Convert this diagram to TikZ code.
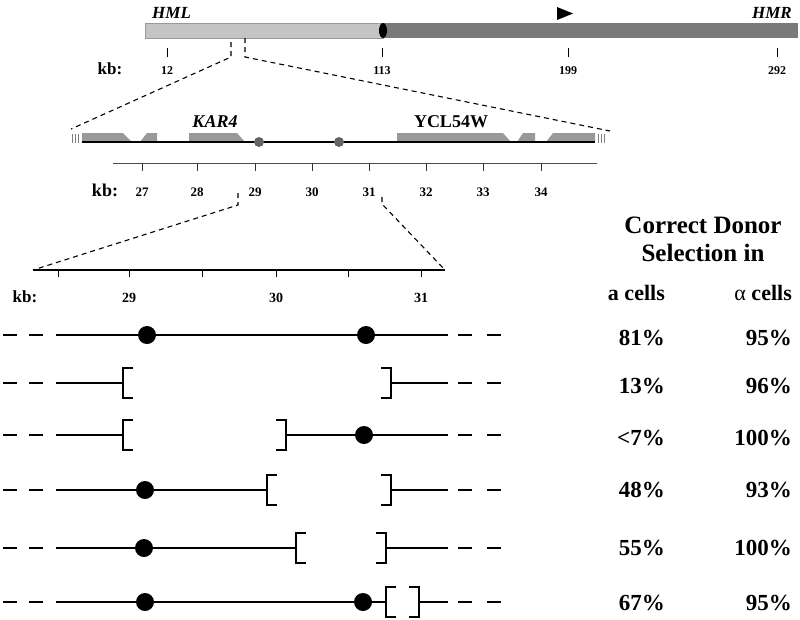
\documentclass[tikz,border=0pt]{standalone}
\usepackage{fontspec}
\setmainfont{Liberation Serif}
\definecolor{lightbar}{HTML}{C4C4C4}
\definecolor{darkbar}{HTML}{7A7A7A}
\definecolor{genegray}{HTML}{999999}
\definecolor{dotgray}{HTML}{666666}
\newcommand{\obrk}[2]{\draw[brk] (#1+10,#2-15) -- (#1,#2-15) -- (#1,#2+15) -- (#1+10,#2+15);}
\newcommand{\cbrk}[2]{\draw[brk] (#1-10,#2-15) -- (#1,#2-15) -- (#1,#2+15) -- (#1-10,#2+15);}
\newcommand{\rowends}[1]{\draw[rowline, dash pattern=on 14pt off 12pt] (3,#1) -- (43,#1);
  \draw[rowline, dash pattern=on 14pt off 15pt] (458,#1) -- (501,#1);}
\begin{document}
\begin{tikzpicture}[x=1pt,y=-1pt,
  txt/.style={inner sep=0pt, font=\bfseries\fontsize{#1}{#1}\selectfont},
  txt/.default=12,
  zoomline/.style={line width=1.1pt, dash pattern=on 5pt off 4pt},
  rowline/.style={line width=2.9pt},
  brk/.style={line width=2.5pt, line cap=butt, line join=miter},
  bigdot/.style={fill=black},
  gene/.style={fill=genegray}]
\useasboundingbox (0,0) rectangle (800,619);

% ---------------- top chromosome bar ----------------
\fill[lightbar] (145,23) rectangle (383,38);
\draw[black!40, line width=0.5pt] (145,23) rectangle (383,38);
\fill[darkbar] (383,23) rectangle (798,38);
\fill[black] (383,30.5) ellipse [x radius=4, y radius=7.5];
\fill[black] (557,7) -- (573,13.5) -- (557,20) -- cycle;
\node[txt=17, anchor=base west] (hml) at (152,18) {\itshape HML};
\node[txt=17, anchor=base east] (hmr) at (792,18) {\itshape HMR};
\node[txt=17, anchor=base] (kbA) at (110,74) {kb:};
\foreach \x/\t in {167/12,382/113,568/199,777/292}{
  \draw[line width=0.8pt] (\x,48) -- (\x,57);
  \node[txt=12, anchor=base] (tA\t) at (\x,74) {\t};
}
\coordinate (a1) at (231,42);
\coordinate (a2) at (231,57);
\coordinate (a3) at (71,129);
\coordinate (b1) at (245,38);
\coordinate (b2) at (245,57);
\coordinate (b3) at (610,131);
\draw[zoomline] (a1) -- (a2) -- (a3);
\draw[zoomline] (b1) -- (b2) -- (b3);

% ---------------- middle map ----------------
\foreach \x in {72,75,78,598,601,604}{
  \draw[black!50, line width=1pt] (\x,134) -- (\x,143);
}
\fill[gene] (82,133) -- (123,133) -- (132,142) -- (82,142) -- cycle;
\fill[gene] (140,142) -- (147,133) -- (157,133) -- (157,142) -- cycle;
\fill[gene] (189,133) -- (237,133) -- (245,142) -- (189,142) -- cycle;
\fill[gene] (397,133) -- (503,133) -- (511,142) -- (397,142) -- cycle;
\fill[gene] (517,142) -- (523,133) -- (535,133) -- (535,142) -- cycle;
\fill[gene] (546,142) -- (553,133) -- (595,133) -- (595,142) -- cycle;
\draw[line width=1.8pt] (82,142) -- (595,142);
\fill[dotgray] (259,142) circle (5);
\fill[dotgray] (339,142) circle (5);
\node[txt=18, anchor=base] (kar) at (215,127) {\itshape KAR4};
\node[txt=18, anchor=base] (ycl) at (451,127) {YCL54W};
\draw[black!70, line width=1pt] (113,163) -- (597,163);
\node[txt=18, anchor=base] (kbB) at (105,196) {kb:};
\foreach \x/\t in {142/27,197/28,255/29,312/30,369/31,426/32,483/33,541/34}{
  \draw[black!80, line width=0.8pt] (\x,163) -- (\x,171);
  \node[txt=13, anchor=base] (tB\t) at (\x,196) {\t};
}
\coordinate (c1) at (238,193);
\coordinate (c2) at (238,205);
\coordinate (c3) at (33,270);
\coordinate (d1) at (382,197);
\coordinate (d2) at (382,204);
\coordinate (d3) at (445,270);
\draw[zoomline] (c1) -- (c2) -- (c3);
\draw[zoomline] (d1) -- (d2) -- (d3);

% ---------------- lower ruler ----------------
\draw[line width=1.3pt] (33,270) -- (445,270);
\foreach \x in {58,129,202,276,348,421}{
  \draw[line width=1pt] (\x,270) -- (\x,277);
}
\node[txt=17, anchor=base] (kbC) at (25,302) {kb:};
\node[txt=14, anchor=base] (tC29) at (129,302) {29};
\node[txt=14, anchor=base] (tC30) at (276,302) {30};
\node[txt=14, anchor=base] (tC31) at (421,302) {31};

% ---------------- headings ----------------
\node[txt=25, anchor=base] (h1) at (703,233) {Correct Donor};
\node[txt=25, anchor=base] (h2) at (703,261) {Selection in};
\node[txt=22, anchor=base east] (acol) at (665,300) {a cells};
\node[txt=22, anchor=base east] (alcol) at (792,300) {{\mdseries α} cells};

% ---------------- rows ----------------
% row 1
\rowends{335}
\draw[rowline] (56,335) -- (448,335);
\fill[bigdot] (147,335) circle (9);
\fill[bigdot] (366,335) circle (9);
% row 2
\rowends{383}
\draw[rowline] (56,383) -- (123,383);
\draw[rowline] (391,383) -- (448,383);
\obrk{123}{383}
\cbrk{391}{383}
% row 3
\rowends{435}
\draw[rowline] (56,435) -- (123,435);
\draw[rowline] (286,435) -- (448,435);
\obrk{123}{435}
\cbrk{286}{435}
\fill[bigdot] (364,435) circle (9);
% row 4
\rowends{490}
\draw[rowline] (56,490) -- (267,490);
\draw[rowline] (391,490) -- (448,490);
\obrk{267}{490}
\cbrk{391}{490}
\fill[bigdot] (145,490) circle (9);
% row 5
\rowends{548}
\draw[rowline] (56,548) -- (296,548);
\draw[rowline] (386,548) -- (448,548);
\obrk{296}{548}
\cbrk{386}{548}
\fill[bigdot] (144,548) circle (9);
% row 6
\rowends{602}
\draw[rowline] (56,602) -- (386,602);
\draw[rowline] (419,602) -- (448,602);
\obrk{386}{602}
\cbrk{419}{602}
\fill[bigdot] (145,602) circle (9);
\fill[bigdot] (363,602) circle (9);

% ---------------- percentages ----------------
\foreach \n/\y/\a/\b in {1/345/81/95,2/393/13/96,3/445/<7/100,4/497/48/93,5/555/55/100,6/610/67/95}{
  \node[txt=23, anchor=base east] (pa\n) at (665,\y) {\a\%};
  \node[txt=23, anchor=base east] (pb\n) at (792,\y) {\b\%};
}
\end{tikzpicture}
\end{document}
